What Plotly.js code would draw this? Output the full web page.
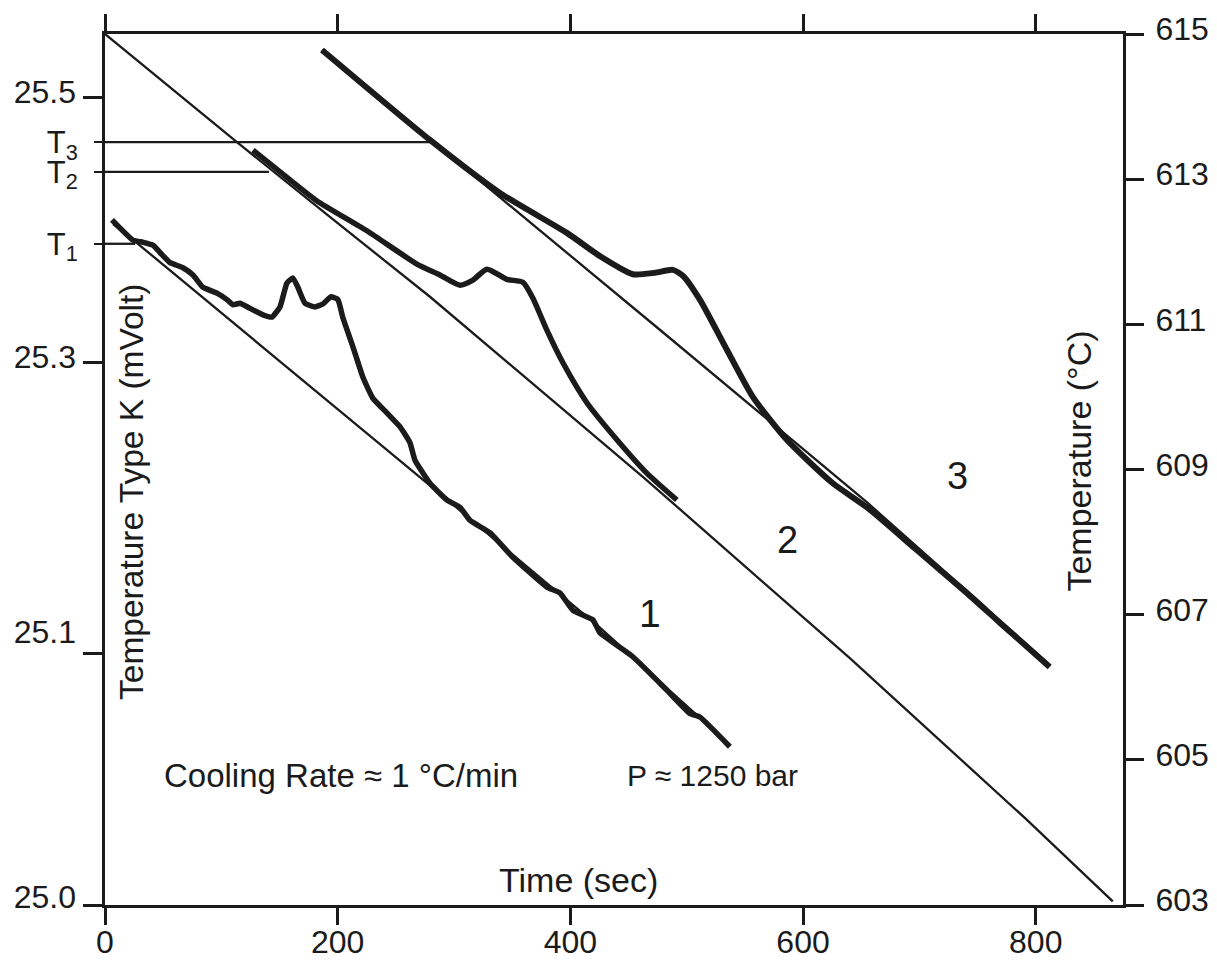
<!DOCTYPE html>
<html>
<head>
<meta charset="utf-8">
<script src="https://cdn.plot.ly/plotly-3.0.1.min.js"></script>
<style>html,body{margin:0;padding:0;background:#fff;}#chart{width:1217px;height:960px;}</style>
</head>
<body>
<div id="chart"></div>
<script>
// Reference cooling line (also baseline of run 2)
const timeMain = [0, 113.4, 193.3, 279.3, 462.3, 640.2, 790.6, 866.2];
const tempMain = [615.0, 613.51, 612.48, 611.38, 608.90, 606.40, 604.20, 603.05];

// Run 1 (measured) and its baseline
const time1 = [6.0, 24.1, 32.7, 41.2, 49.0, 55.9, 67.0, 75.6, 84.2, 96.2, 104.8, 110.0, 116.0, 124.6, 135.8, 143.5, 150.4, 156.4, 161.5, 165.8, 171.9, 180.5, 187.3, 194.2, 200.2, 204.5, 213.1, 221.7, 230.3, 242.3, 253.5, 262.1, 266.4, 279.3, 293.9, 305.1, 313.6, 330.8, 350.6, 379.8, 391.0, 402.2, 419.3, 425.4, 453.7, 482.9, 502.7, 511.3, 537.1];
const temp1 = [612.44, 612.16, 612.13, 612.09, 611.96, 611.85, 611.78, 611.68, 611.51, 611.43, 611.34, 611.27, 611.29, 611.22, 611.13, 611.10, 611.24, 611.57, 611.64, 611.51, 611.29, 611.24, 611.28, 611.38, 611.34, 611.09, 610.69, 610.27, 609.98, 609.78, 609.59, 609.37, 609.13, 608.81, 608.58, 608.48, 608.30, 608.13, 607.79, 607.38, 607.30, 607.06, 606.93, 606.75, 606.42, 605.96, 605.64, 605.59, 605.18];
const time1Base = [6.9, 27.5, 236.3, 302.5, 425.4, 532.8];
const temp1Base = [612.38, 612.12, 609.35, 608.47, 606.82, 605.27];

// Run 2 (measured)
const time2 = [127.2, 159.0, 182.2, 225.1, 268.1, 287.9, 305.1, 316.2, 328.3, 345.4, 359.2, 367.8, 379.8, 393.6, 414.2, 440.0, 465.7, 491.5];
const temp2 = [613.40, 612.99, 612.70, 612.29, 611.83, 611.68, 611.54, 611.61, 611.76, 611.62, 611.58, 611.36, 610.92, 610.47, 609.92, 609.41, 608.95, 608.58];

// Run 3 (measured) and its baseline
const time3 = [186.5, 279.3, 339.4, 397.0, 425.4, 453.7, 472.6, 488.1, 496.7, 511.3, 534.5, 556.8, 586.0, 625.6, 654.8, 697.8, 740.7, 769.1, 812.0];
const temp3 = [614.78, 613.54, 612.81, 612.26, 611.94, 611.69, 611.71, 611.75, 611.67, 611.34, 610.65, 610.00, 609.41, 608.81, 608.48, 607.89, 607.30, 606.89, 606.28];
const time3Base = [186.5, 339.4, 474.3, 654.8, 811.2];
const temp3Base = [614.78, 612.75, 610.96, 608.55, 606.32];

// Liquidus markers T1..T3
const tLevels = [613.51, 613.10, 612.11];
const tLineEnd = [279.3, 140.9, 25.8];
const tLabels = ['T<sub>3</sub>', 'T<sub>2</sub>', 'T<sub>1</sub>'];

// Left (mV) axis: tick marks and labels
const mvTickVals = [614.12, 610.47, 606.47, 603.0];
const mvLabelVals = [614.21, 610.55, 606.77, 603.11];
const mvLabels = ['25.5', '25.3', '25.1', '25.0'];

// Right (°C) axis and time axis
const degTicks = [603, 605, 607, 609, 611, 613, 615];
const timeTicks = [0, 200, 400, 600, 800];

const INK = '#1b1b1b';
const FONT = '"Liberation Sans", Arial, Helvetica, sans-serif';

const traces = [];
traces.push({x: timeMain, y: tempMain, mode: 'lines', line: {color: INK, width: 2.3}, hoverinfo: 'skip'});
traces.push({x: time1Base, y: temp1Base, mode: 'lines', line: {color: INK, width: 2.3}, hoverinfo: 'skip'});
traces.push({x: time3Base, y: temp3Base, mode: 'lines', line: {color: INK, width: 2.3}, hoverinfo: 'skip'});
tLevels.forEach((lv, i) => {
  traces.push({x: [0, tLineEnd[i]], y: [lv, lv], mode: 'lines', line: {color: INK, width: 2.3}, hoverinfo: 'skip'});
});
traces.push({x: time1, y: temp1, mode: 'lines', line: {color: INK, width: 5.5, shape: 'spline', smoothing: 0.4}, hoverinfo: 'skip'});
traces.push({x: time2, y: temp2, mode: 'lines', line: {color: INK, width: 5.5, shape: 'spline', smoothing: 0.6}, hoverinfo: 'skip'});
traces.push({x: time3, y: temp3, mode: 'lines', line: {color: INK, width: 6, shape: 'spline', smoothing: 0.6}, hoverinfo: 'skip'});

// invisible traces that activate the overlay axes
traces.push({x: [0], y: [609], yaxis: 'y2', mode: 'markers', marker: {opacity: 0}, hoverinfo: 'skip'});
traces.push({x: [0], y: [609], yaxis: 'y3', mode: 'markers', marker: {opacity: 0}, hoverinfo: 'skip'});
traces.push({x: [0], y: [609], yaxis: 'y4', mode: 'markers', marker: {opacity: 0}, hoverinfo: 'skip'});
traces.push({x: [0], y: [609], xaxis: 'x2', mode: 'markers', marker: {opacity: 0}, hoverinfo: 'skip'});

const yr = [603, 615];
const xr = [0, 875];
const tickFont = {family: FONT, size: 32, color: INK};

const layout = {
  width: 1217, height: 960,
  margin: {l: 105, r: 94, t: 34, b: 55},
  paper_bgcolor: '#ffffff', plot_bgcolor: '#ffffff',
  showlegend: false,
  font: {family: FONT, color: INK},
  xaxis: {
    range: xr, tickvals: timeTicks, showticklabels: false,
    ticks: 'outside', ticklen: 17, tickwidth: 3, tickcolor: INK,
    showline: true, linewidth: 3, linecolor: INK, mirror: 'ticks',
    showgrid: false, zeroline: false
  },
  xaxis2: {
    range: xr, overlaying: 'x', anchor: 'y', side: 'bottom',
    tickvals: timeTicks, ticktext: timeTicks.map(String), ticks: '',
    showline: false, showgrid: false, zeroline: false,
    tickfont: tickFont, ticklabelstandoff: 15
  },
  yaxis: {
    range: yr, side: 'right', tickvals: degTicks, ticktext: degTicks.map(String),
    ticks: 'outside', ticklen: 18, tickwidth: 3, tickcolor: INK,
    showline: true, linewidth: 3, linecolor: INK,
    showgrid: false, zeroline: false, tickfont: tickFont, ticklabelstandoff: 5,
    ticklabelshift: -5
  },
  yaxis2: {
    range: yr, overlaying: 'y', side: 'left', anchor: 'x',
    tickvals: mvTickVals, showticklabels: false,
    ticks: 'outside', ticklen: 19, tickwidth: 3, tickcolor: INK,
    showline: true, linewidth: 3, linecolor: INK,
    showgrid: false, zeroline: false
  },
  yaxis3: {
    range: yr, overlaying: 'y', side: 'left', anchor: 'x',
    tickvals: tLevels, ticktext: tLabels,
    ticks: 'outside', ticklen: 10, tickwidth: 2.3, tickcolor: INK,
    showline: false, showgrid: false, zeroline: false,
    tickfont: {family: FONT, size: 31, color: INK}, ticklabelstandoff: 10
  },
  yaxis4: {
    range: yr, overlaying: 'y', side: 'left', anchor: 'x',
    tickvals: mvLabelVals, ticktext: mvLabels, ticks: '',
    showline: false, showgrid: false, zeroline: false,
    tickfont: tickFont, ticklabelstandoff: 28
  },
  annotations: [
    {x: 22.3, y: 608.69, xref: 'x', yref: 'y', text: 'Temperature Type K (mVolt)', textangle: -90, showarrow: false, font: {family: FONT, size: 33.5, color: INK}},
    {x: 837.0, y: 609.12, xref: 'x', yref: 'y', text: 'Temperature (°C)', textangle: -90, showarrow: false, font: {family: FONT, size: 34, color: INK}},
    {x: 407.3, y: 603.34, xref: 'x', yref: 'y', text: 'Time (sec)', showarrow: false, font: {family: FONT, size: 34, color: INK}},
    {x: 202.8, y: 604.79, xref: 'x', yref: 'y', text: 'Cooling Rate ≈ 1 °C/min', showarrow: false, font: {family: FONT, size: 33, color: INK}},
    {x: 522.5, y: 604.79, xref: 'x', yref: 'y', text: 'P ≈ 1250 bar', showarrow: false, font: {family: FONT, size: 30, color: INK}},
    {x: 468.3, y: 607.02, xref: 'x', yref: 'y', text: '1', showarrow: false, font: {family: FONT, size: 39, color: INK}},
    {x: 586.9, y: 608.03, xref: 'x', yref: 'y', text: '2', showarrow: false, font: {family: FONT, size: 38, color: INK}},
    {x: 733.0, y: 608.91, xref: 'x', yref: 'y', text: '3', showarrow: false, font: {family: FONT, size: 38, color: INK}}
  ]
};

Plotly.newPlot('chart', traces, layout, {displayModeBar: false, staticPlot: true});
</script>
</body>
</html>
